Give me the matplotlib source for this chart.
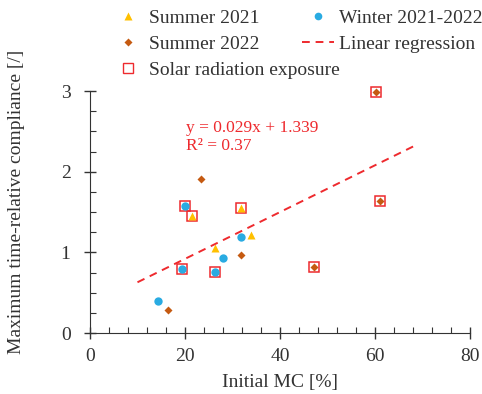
import numpy as np
import matplotlib.pyplot as plt
from matplotlib.lines import Line2D

plt.rcParams['font.family'] = ['Liberation Serif', 'DejaVu Serif']

# Summer 2021 (triangles)
s21_x = [21.4, 31.8, 34.0, 26.3]
s21_y = [1.45, 1.55, 1.21, 1.05]
# Winter 2021-2022 (circles)
w21_x = [19.9, 19.3, 14.3, 26.3, 27.9, 31.7]
w21_y = [1.57, 0.79, 0.40, 0.76, 0.93, 1.19]
# Summer 2022 (diamonds)
s22_x = [23.4, 31.8, 16.5, 47.2, 60.2, 61.0]
s22_y = [1.91, 0.97, 0.29, 0.82, 2.99, 1.635]
# solar radiation exposure (boxed points)
sol_x = [19.9, 19.3, 26.3, 21.4, 31.8, 47.2, 60.2, 61.0]
sol_y = [1.57, 0.79, 0.76, 1.45, 1.55, 0.82, 2.99, 1.635]

# regression line
slope = 0.029
icept = 0.339
reg_x = np.array([10, 69])

c_gold = '#FFC000'
c_blue = '#29ABE2'
c_brown = '#C55A11'
c_red = '#EE2A2E'
c_ax = '#333333'

fig = plt.figure(figsize=(4.82, 3.94), dpi=100)
ax = fig.add_axes([0.1867, 0.1548, 0.7883, 0.6142])

ax.plot(reg_x, slope*reg_x + icept, ls=(0, (4, 3)), color=c_red, lw=1.4, zorder=2)
ax.plot(sol_x, sol_y, 's', ms=7.5, mfc='none', mec=c_red, mew=1.1, zorder=3, clip_on=False)
ax.plot(s21_x, s21_y, '^', ms=6.4, color=c_gold, mec='none', zorder=4, clip_on=False)
ax.plot(w21_x, w21_y, 'o', ms=6, color=c_blue, mec='none', zorder=4, clip_on=False)
ax.plot(s22_x, s22_y, 'D', ms=4.3, color=c_brown, mec='none', zorder=4, clip_on=False)

ax.text(20.3, 2.43, 'y = 0.029x + 1.339\nR² = 0.37', color=c_red, fontsize=12.5,
        va='center', linespacing=1.15)

ax.set_xlim(0, 80)
ax.set_ylim(0, 3)
ax.set_xticks([0, 20, 40, 60, 80])
ax.set_yticks([0, 1, 2, 3])
ax.set_xticks(np.arange(0, 81, 4), minor=True)
ax.set_yticks(np.arange(0, 3.01, 0.25), minor=True)
ax.tick_params(which='major', direction='inout', length=8, width=1, colors=c_ax,
               labelsize=14, labelcolor=c_ax)
ax.tick_params(axis='x', which='major', pad=7)
ax.tick_params(axis='y', which='major', pad=10)
ax.tick_params(which='minor', direction='in', length=4, width=0.8, colors=c_ax)
for s in ['top', 'right']:
    ax.spines[s].set_visible(False)
for s in ['left', 'bottom']:
    ax.spines[s].set_color(c_ax)
ax.set_xlabel('Initial MC [%]', fontsize=14, color=c_ax, labelpad=6.5)
ax.set_ylabel('Maximum time-relative compliance [/]', fontsize=14, color=c_ax)
ax.yaxis.set_label_coords(-0.171, 0.541)

# legend, split in two blocks like the original
h1 = [
    Line2D([], [], ls='none', marker='^', ms=5.5, color=c_gold, mec='none'),
    Line2D([], [], ls='none', marker='D', ms=3.8, color=c_brown, mec='none'),
    Line2D([], [], ls='none', marker='s', ms=7, mfc='none', mec=c_red, mew=1),
]
l1 = ['Summer 2021', 'Summer 2022', 'Solar radiation exposure']
h2 = [
    Line2D([], [], ls='none', marker='o', ms=5.5, color=c_blue, mec='none'),
    Line2D([], [], ls=(0, (4, 3)), color=c_red, lw=1.4),
]
l2 = ['Winter 2021-2022', 'Linear regression']

kw = dict(frameon=False, fontsize=14, handlelength=1.65, handletextpad=0.25,
          labelspacing=0.43, borderpad=0, borderaxespad=0, loc='upper left')
leg1 = fig.legend(h1, l1, bbox_to_anchor=(0.232, 0.977), **kw)
leg2 = fig.legend(h2, l2, bbox_to_anchor=(0.627, 0.977), **kw)
for leg in (leg1, leg2):
    for t in leg.get_texts():
        t.set_color(c_ax)

fig.savefig('out.png', dpi=100)
